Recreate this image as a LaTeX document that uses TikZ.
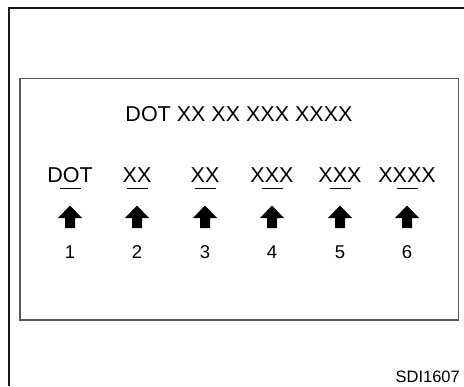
\documentclass[tikz,border=0pt]{standalone}
\usepackage{fontspec}
\setmainfont{Liberation Sans}
\begin{document}
\begin{tikzpicture}[x=1bp,y=-1bp,
  bigtext/.style={font=\fontsize{21.5bp}{24bp}\selectfont, inner sep=0pt, anchor=base},
  numtext/.style={font=\fontsize{18.5bp}{22bp}\selectfont, inner sep=0pt, anchor=base},
  codetext/.style={font=\fontsize{16.5bp}{20bp}\selectfont, inner sep=0pt, anchor=base east},
  frame/.style={line width=2.2bp, draw=black!90},
  panel/.style={line width=1.6bp, draw=black!65},
  uline/.style={line width=1bp},
  uparrow/.style={fill=black}]
\useasboundingbox (0,0) rectangle (464,386);
\draw[frame] (9,386) -- (9,8) -- (464,8);
\draw[panel] (20,78.5) rectangle (458.3,320);
\node[bigtext] (title) at (239,121.5) {DOT XX XX XXX XXXX};
\foreach \i/\x/\t in {1/70/DOT,2/137/XX,3/205/XX,4/272/XXX,5/340/XXX,6/407/XXXX} {
  \node[bigtext] (lab\i) at (\x,182.3) {\t};
  \draw[uline] (\x-10.5,188.5) -- (\x+10.5,188.5);
  \fill[uparrow] (\x,205.5) -- (\x+12,218) -- (\x+5,218) -- (\x+5,228) -- (\x-5,228) -- (\x-5,218) -- (\x-12,218) -- cycle;
  \node[numtext] (num\i) at (\x,258.3) {\i};
}
\node[codetext] (code) at (460,382.3) {SDI1607};
\end{tikzpicture}
\end{document}
